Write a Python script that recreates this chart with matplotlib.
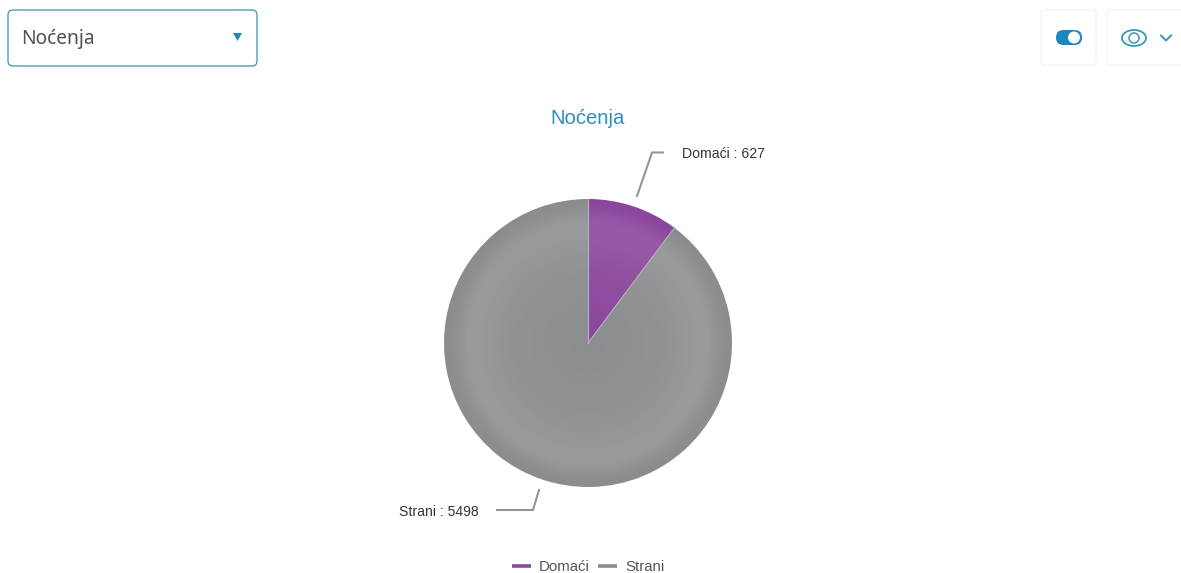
import matplotlib.pyplot as plt
import numpy as np
from matplotlib.patches import FancyBboxPatch, Polygon, Circle, Ellipse

W, H = 1181, 573

labels = ['Domaći', 'Strani']
values = [627, 5498]
slice_colors = ['#8a459c', '#8b8c8e']
legend_colors = ['#8a4a9c', '#8c8d8f']
title = 'Noćenja'

plt.rcParams['font.family'] = ['Liberation Sans', 'DejaVu Sans']

fig = plt.figure(figsize=(W/100, H/100), dpi=100)
ax = fig.add_axes([0, 0, 1, 1])


def y(py):
    return H - py


def shade(col, k):
    c = np.array(plt.matplotlib.colors.to_rgb(col))
    return tuple(c + (1 - c)*k)


# pie with radial shading, drawn as shrinking pies
cx, cy, R = 588, y(343), 144
for r in np.linspace(1, 0.02, 70):
    k = np.interp(r, [0, 0.5, 0.76, 0.85, 0.95, 1], [0.0, 0.05, 0.11, 0.11, 0.02, 0.0])
    ax.pie(values, colors=[shade(c, k) for c in slice_colors], startangle=90,
           counterclock=False, center=(cx, cy), radius=R*r, frame=False)

ax.set_aspect('auto')
ax.axis('off')

# slice divider
for ang in [90, 90 - 360*values[0]/sum(values)]:
    a = np.radians(ang)
    ax.plot([cx, cx + R*np.cos(a)], [cy, cy + R*np.sin(a)], color='#b4b4b6', lw=0.8)

# callouts
ax.plot([637, 652, 663], [y(196), y(152.5), y(152.5)], color='#959595', lw=1.5)
ax.plot([539, 533, 497], [y(490), y(510), y(510)], color='#959595', lw=1.5)
ax.text(682, y(154), f'{labels[0]} : {values[0]}', fontsize=10.1, color='#333333', va='center')
ax.text(399, y(512), f'{labels[1]} : {values[1]}', fontsize=10.1, color='#333333', va='center')

ax.text(588, y(118), title, fontsize=14.6, color='#2b8fc0', ha='center', va='center')

# legend
ax.plot([512, 531], [y(566), y(566)], color=legend_colors[0], lw=2.6, solid_capstyle='butt')
ax.text(539, y(567), labels[0], fontsize=10.8, color='#555555', va='center')
ax.plot([598, 617], [y(566), y(566)], color=legend_colors[1], lw=2.6, solid_capstyle='butt')
ax.text(625, y(567), labels[1], fontsize=10.8, color='#555555', va='center')

# dropdown
ax.add_patch(FancyBboxPatch((8, y(66)), 249, 56, boxstyle='round,pad=0,rounding_size=5',
                            fc='white', ec='#3f93ad', lw=0.9))
ax.text(21, y(39), title, fontsize=13.8, color='#505050', va='center', family=['Noto Sans', 'DejaVu Sans'])
ax.add_patch(Polygon([(233, y(33)), (242, y(33)), (237.5, y(41))], fc='#1f88b8', ec='none'))

# buttons top right
for x0, w in [(1041, 55), (1107, 80)]:
    ax.add_patch(FancyBboxPatch((x0, y(65)), w, 55, boxstyle='round,pad=0,rounding_size=4',
                                fc='white', ec='#f1f1f1', lw=0.8))
ax.add_patch(FancyBboxPatch((1056, y(45)), 26, 15, boxstyle='round,pad=0,rounding_size=7.5',
                            fc='#1c86bd', ec='none'))
ax.add_patch(Circle((1074, y(37.5)), 6, fc='white', ec='none'))
ax.add_patch(Ellipse((1134, y(38)), 24, 16, fc='white', ec='#3a97b8', lw=1.3))
ax.add_patch(Circle((1134, y(38)), 5, fc='white', ec='#3a97b8', lw=1.1))
ax.plot([1161, 1166, 1171], [y(35.5), y(40.5), y(35.5)], color='#3a97b8', lw=1.4)

ax.set_xlim(0, W)
ax.set_ylim(0, H)
fig.savefig('out.png', dpi=100)
